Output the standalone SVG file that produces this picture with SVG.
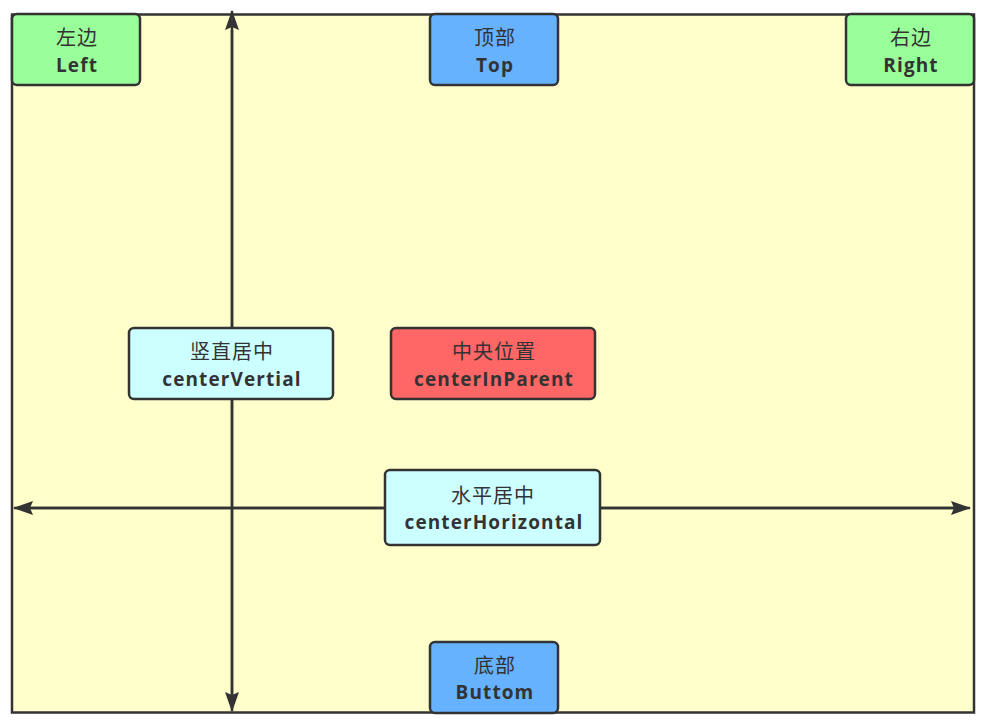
<svg xmlns="http://www.w3.org/2000/svg" width="990" height="722" viewBox="0 0 990 722">
<style>
.box{stroke:#333;stroke-width:2.5}
.cn{font-family:"Noto Sans CJK SC","Noto Sans",sans-serif;font-size:20px;fill:#333;text-anchor:middle;letter-spacing:1px}
.en{font-family:"Open Sans","Noto Sans",sans-serif;font-size:19px;font-weight:bold;fill:#333;text-anchor:middle;letter-spacing:1.1px}
.line{stroke:#333;stroke-width:2.5;fill:none}
</style>
<defs>
<marker id="ah" viewBox="0 0 20 14" refX="19" refY="7" markerWidth="20" markerHeight="14" markerUnits="userSpaceOnUse" orient="auto">
<path d="M0,0 L20,7 L0,14 L3,7 Z" fill="#333"/>
</marker>
</defs>
<rect width="990" height="722" fill="#fff"/>
<rect id="frame" x="12" y="14.5" width="962" height="698" fill="#ffffcc" stroke="#333" stroke-width="2.5"/>
<g id="connectors">
<line class="line" x1="232" y1="698" x2="232" y2="11" marker-end="url(#ah)"/>
<line class="line" x1="232" y1="30" x2="232" y2="711" marker-end="url(#ah)"/>
<line class="line" x1="960" y1="508" x2="14" y2="508" marker-end="url(#ah)"/>
<line class="line" x1="30" y1="508" x2="970" y2="508" marker-end="url(#ah)"/>
</g>
<g id="left">
<rect class="box" x="12" y="14" width="128" height="71" rx="5" fill="#99ff99"/>
<text class="cn" x="77" y="45">左边</text>
<text class="en" x="77" y="72">Left</text>
</g>
<g id="top">
<rect class="box" x="430" y="14" width="128" height="71" rx="5" fill="#66b2ff"/>
<text class="cn" x="495" y="45">顶部</text>
<text class="en" x="495" y="72">Top</text>
</g>
<g id="right">
<rect class="box" x="846" y="14" width="128" height="71" rx="5" fill="#99ff99"/>
<text class="cn" x="911" y="45">右边</text>
<text class="en" x="911" y="72">Right</text>
</g>
<g id="centerVertical">
<rect class="box" x="129" y="328" width="204" height="71" rx="5" fill="#ccffff"/>
<text class="cn" x="232" y="359">竖直居中</text>
<text class="en" x="232" y="386">centerVertial</text>
</g>
<g id="centerInParent">
<rect class="box" x="391" y="328" width="204" height="71" rx="5" fill="#ff6666"/>
<text class="cn" x="494" y="359">中央位置</text>
<text class="en" x="494" y="386">centerInParent</text>
</g>
<g id="centerHorizontal">
<rect class="box" x="385" y="470" width="215" height="75" rx="5" fill="#ccffff"/>
<text class="cn" x="493" y="503">水平居中</text>
<text class="en" x="494" y="529">centerHorizontal</text>
</g>
<g id="bottom">
<rect class="box" x="430" y="642" width="128" height="71" rx="5" fill="#66b2ff"/>
<text class="cn" x="495" y="673">底部</text>
<text class="en" x="495" y="699">Buttom</text>
</g>
</svg>
